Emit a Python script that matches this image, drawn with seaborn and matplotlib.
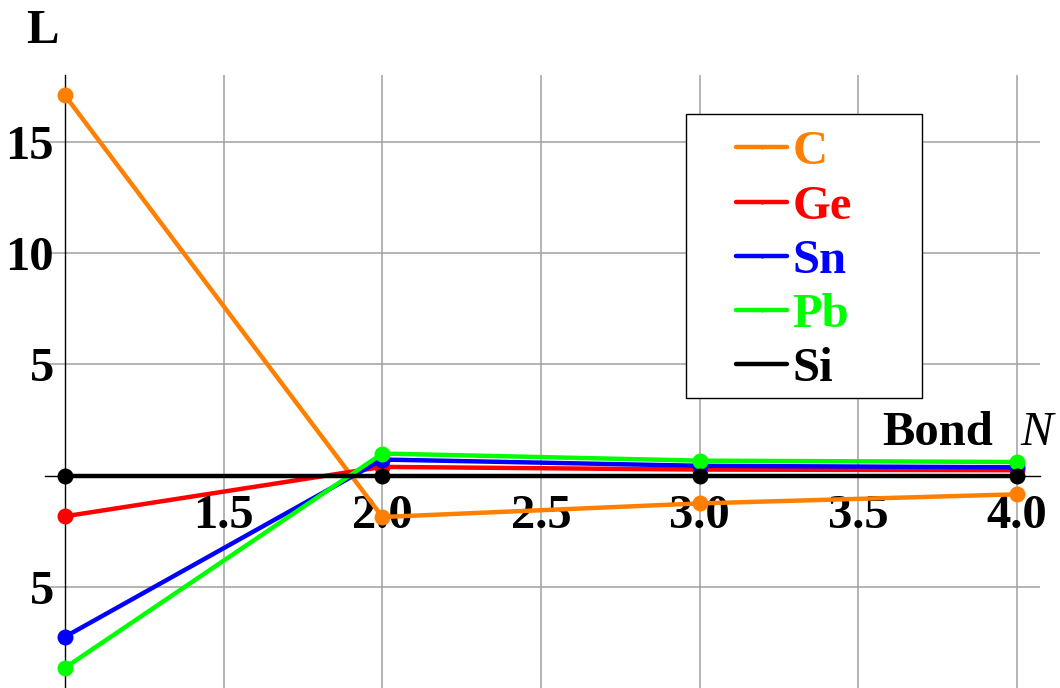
import numpy as np
import pandas as pd
import matplotlib
matplotlib.use('Agg')
import matplotlib.pyplot as plt
from matplotlib.lines import Line2D
from matplotlib.patches import Rectangle
import seaborn as sns

# ---- data ----
bond_n = [1, 2, 3, 4]
elements = ['C', 'Ge', 'Sn', 'Pb', 'Si']
L_C = [17.08, -1.85, -1.24, -0.83]
L_Ge = [-1.82, 0.40, 0.28, 0.25]
L_Sn = [-7.23, 0.73, 0.45, 0.38]
L_Pb = [-8.62, 1.00, 0.68, 0.62]
L_Si = [0.0, 0.0, 0.0, 0.0]
colors = {'C': '#ff8000', 'Ge': '#ff0000', 'Sn': '#0000ff', 'Pb': '#00ff00', 'Si': '#000000'}

x_ticks = [1.5, 2.0, 2.5, 3.0, 3.5, 4.0]
x_tick_labels = ['1.5', '2.0', '2.5', '3.0', '3.5', '4.0']
y_ticks = [-5, 5, 10, 15]
y_tick_labels = ['5', '5', '10', '15']

df = pd.DataFrame({
    'N': bond_n * len(elements),
    'L': L_C + L_Ge + L_Sn + L_Pb + L_Si,
    'element': [e for e in elements for _ in bond_n],
})

# ---- style ----
sns.set_style('white')
plt.rcParams['font.family'] = ['Liberation Serif', 'DejaVu Serif']
plt.rcParams['font.weight'] = 'bold'
plt.rcParams['text.color'] = 'black'
plt.rcParams['xtick.color'] = 'black'
plt.rcParams['ytick.color'] = 'black'
FS = 35

fig = plt.figure(figsize=(10.6, 6.88), dpi=100)
ax = fig.add_axes([45 / 1060, 0.0, (1040 - 45) / 1060, 1 - 75 / 688])

sns.lineplot(data=df, x='N', y='L', hue='element', hue_order=elements,
             palette=colors, marker='o', markersize=11.5, markeredgewidth=0,
             linewidth=3.2, legend=False, ax=ax, zorder=3)

ax.set_xlim(0.937, 4.072)
ax.set_ylim(-9.53, 18.0)
ax.set_axisbelow(True)

# axes cross at (1, 0)
ax.spines['left'].set_position(('data', 1))
ax.spines['bottom'].set_position(('data', 0))
ax.spines['top'].set_visible(False)
ax.spines['right'].set_visible(False)
for s in ['left', 'bottom']:
    ax.spines[s].set_linewidth(1.0)
    ax.spines[s].set_color('black')

ax.set_xticks(x_ticks)
ax.set_xticklabels(x_tick_labels)
ax.set_xticks(np.arange(1.0, 4.05, 0.1), minor=True)
ax.set_yticks(y_ticks)
ax.set_yticklabels(y_tick_labels)
ax.set_yticks(np.arange(-9, 18.5, 1), minor=True)

# tick sizes in points (pixels * 0.72)
ax.tick_params(axis='x', which='major', direction='in', length=5, width=0.8, pad=13,
               labelsize=FS)
ax.tick_params(axis='x', which='minor', direction='in', length=3, width=0.8)
ax.tick_params(axis='y', which='major', direction='inout', length=14, width=0.8, pad=1,
               labelsize=FS)
ax.tick_params(axis='y', which='minor', direction='in', length=5, width=0.8)

ax.grid(True, which='major', color='#a0a0a0', linewidth=1.1)
ax.set_xlabel('')
ax.set_ylabel('')

# axis titles
fig.text(26 / 1060, 1 - 43 / 688, 'L', fontsize=FS, fontweight='bold', va='baseline')
fig.text(1053 / 1060, 1 - 445 / 688, 'N', fontsize=FS, fontweight='normal',
         fontstyle='italic', ha='right', va='baseline')
fig.text(993 / 1060, 1 - 445 / 688, 'Bond', fontsize=FS, fontweight='bold',
         ha='right', va='baseline')

# legend in a square box
fig.patches.append(Rectangle((686 / 1060, 1 - 398 / 688), (922 - 686) / 1060,
                             (398 - 114) / 688, transform=fig.transFigure,
                             facecolor='white', edgecolor='black', linewidth=1.0,
                             zorder=5))
handles = [Line2D([], [], color=colors[e], lw=3.2, marker='o' if e != 'Si' else None,
                  markersize=2) for e in elements]
leg = fig.legend(handles, elements, loc='upper left',
                 bbox_to_anchor=(734 / 1060, 1 - 128 / 688), frameon=False,
                 fontsize=FS, labelcolor='linecolor', handlelength=1.05,
                 handletextpad=0.1, labelspacing=0.21, borderpad=0.05,
                 borderaxespad=0)
leg.set_zorder(6)
for t in leg.get_texts():
    t.set_fontweight('bold')

fig.savefig('out.png', dpi=100)
